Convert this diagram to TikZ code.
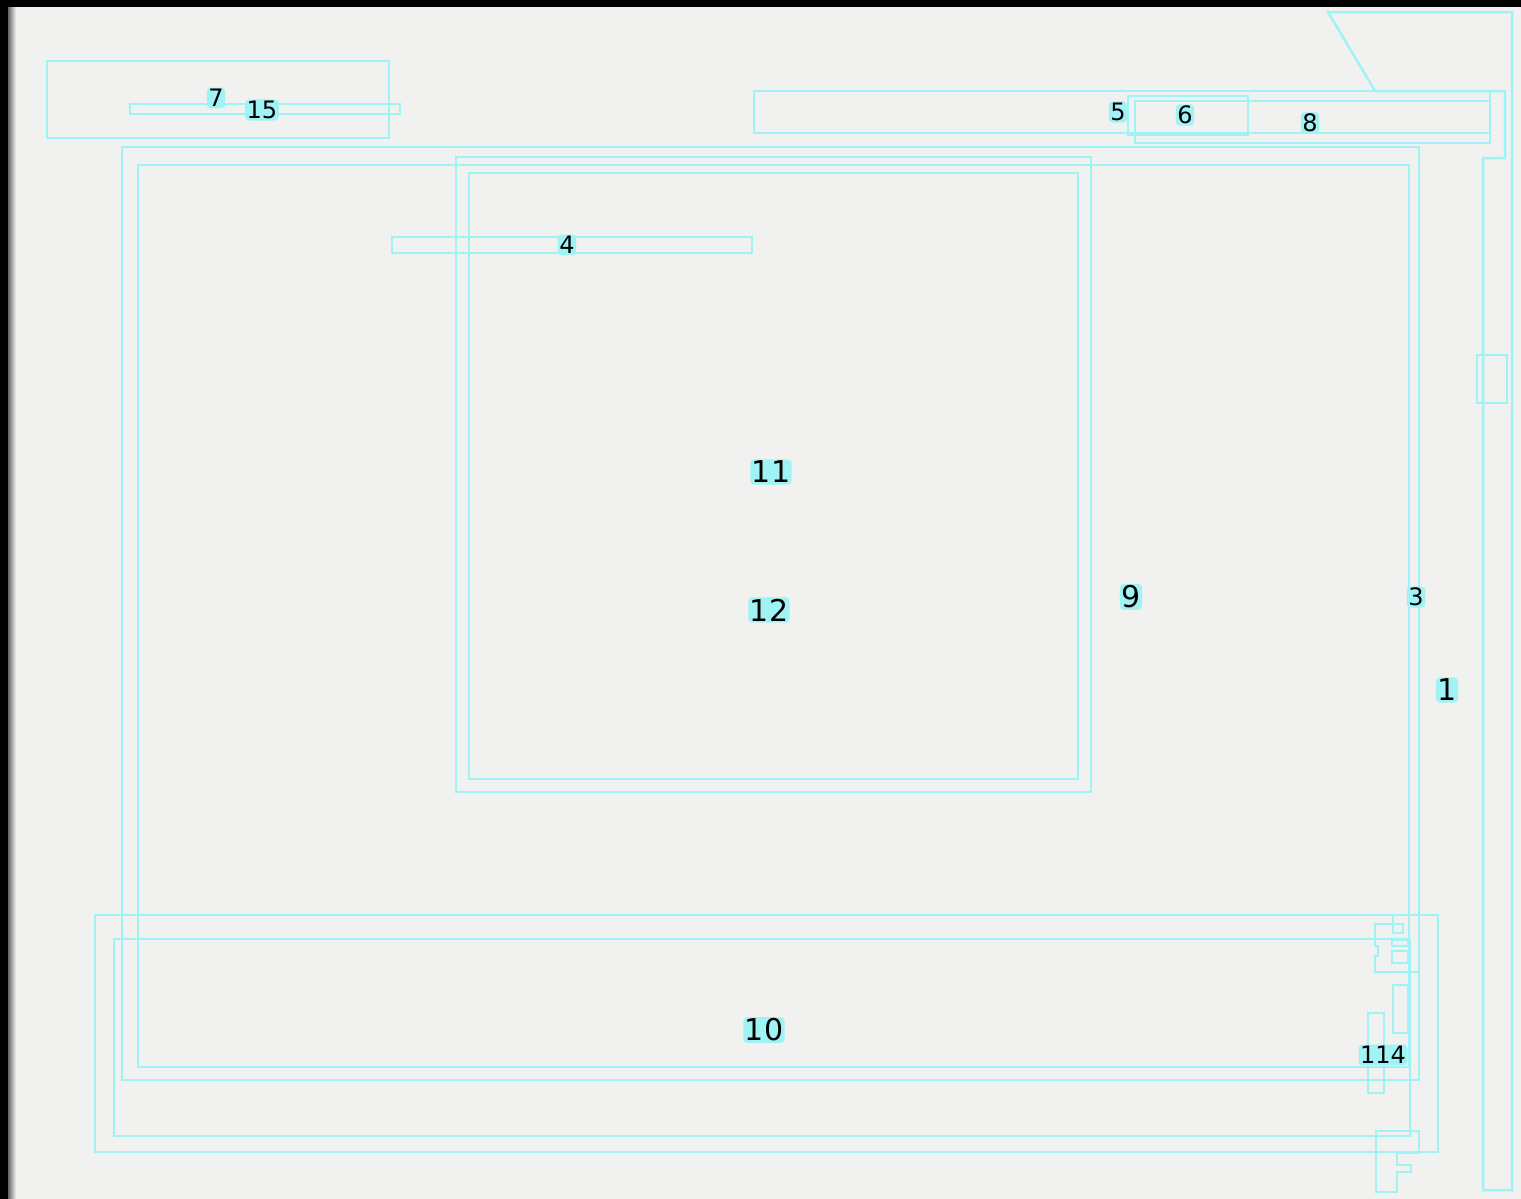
\documentclass[tikz,border=0pt]{standalone}
\usepackage{xcolor}
\usepackage{fontspec}
\setmainfont{DejaVu Sans}
\usepackage{tikz}
\usetikzlibrary{positioning}
\definecolor{boxcyan}{RGB}{160,243,245}
\definecolor{screengrey}{RGB}{241,241,239}
\tikzset{
  cyanbox/.style={draw=boxcyan, line width=1.25pt},
  tag/.style={fill=boxcyan, rounded corners=2pt, inner sep=0.8pt, text=black, font=\fontsize{12}{12}\selectfont},
  bigtag/.style={tag, font=\fontsize{15}{15}\selectfont}
}

\begin{document}
\begin{tikzpicture}[x=0.5pt, y=-0.5pt]
    \useasboundingbox (0,0) rectangle (1521,1199);
    \fill[screengrey] (0,0) rectangle (1521,1199);
    \fill[black] (0,0) rectangle (1521,7);
    \fill[black] (0,0) rectangle (8,1199);
    \shade[left color=black!60, right color=screengrey] (8,7) rectangle (16,1199);
    % top left
    \draw[cyanbox] (47,61) rectangle (389,138);
    \draw[cyanbox] (130,104) rectangle (400,114);
    % top bar and right column
    \draw[cyanbox] (754,91) rectangle (1490,133);
    \draw[cyanbox] (1128,96) rectangle (1248,135);
    \draw[cyanbox] (1135,101) rectangle (1490,143);
    \draw[cyanbox] (1375,91) -- (1505,91) -- (1505,158) -- (1483,158) -- (1483,1190)
      -- (1512,1190) -- (1512,12) -- (1328,12) -- cycle;
    \draw[cyanbox] (1477,355) rectangle (1507,403);
    % main frames
    \draw[cyanbox] (122,147) rectangle (1419,1080);
    \draw[cyanbox] (138,165) rectangle (1409,1067);
    \draw[cyanbox] (456,157) rectangle (1091,792);
    \draw[cyanbox] (469,173) rectangle (1078,779);
    \draw[cyanbox] (392,237) rectangle (752,253);
    \draw[cyanbox] (95,915) rectangle (1438,1152);
    \draw[cyanbox] (114,939) rectangle (1410,1136);
    % small parts bottom right
    \draw[cyanbox] (1393,915) -- (1393,924) -- (1375,924) -- (1375,946) -- (1378,946)
      -- (1378,956) -- (1375,956) -- (1375,972) -- (1418,972);
    \draw[cyanbox] (1393,924) rectangle (1403,933);
    \draw[cyanbox] (1392,940) rectangle (1408,946);
    \draw[cyanbox] (1392,951) rectangle (1408,963);
    \draw[cyanbox] (1393,985) rectangle (1408,1033);
    \draw[cyanbox] (1368,1013) rectangle (1384,1093);
    \draw[cyanbox] (1376,1131) -- (1419,1131) -- (1419,1153) -- (1397,1153) -- (1397,1165)
      -- (1411,1165) -- (1411,1172) -- (1397,1172) -- (1397,1192) -- (1376,1192) -- cycle;
    % labels
    \node[tag] (n7) at (216,98) {7};
    \node[tag] (n15) at (262,110) {15};
    \node[tag] (n5) at (1118,112) {5};
    \node[tag] (n6) at (1185,115) {6};
    \node[tag] (n8) at (1310,123) {8};
    \node[tag] (n4) at (567,245) {4};
    \node[bigtag] (n11) at (771,472) {11};
    \node[bigtag] (n12) at (769,610) {12};
    \node[bigtag] (n9) at (1131,597) {9};
    \node[tag] (n3) at (1416,597) {3};
    \node[bigtag] (n1) at (1447,690) {1};
    \node[bigtag] (n10) at (764,1030) {10};
    \node[tag] (n114) at (1383,1055) {114};
  \end{tikzpicture}
\end{document}
